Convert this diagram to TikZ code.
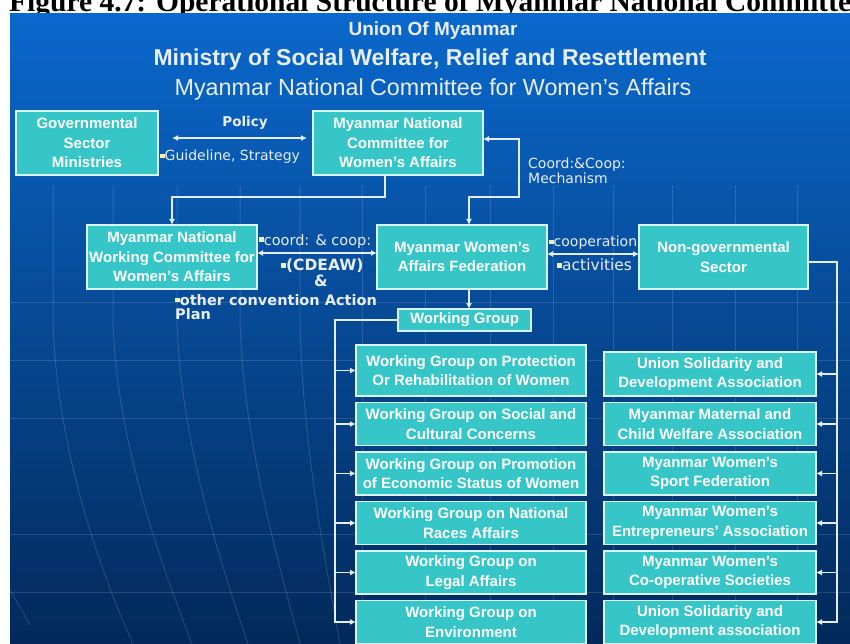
\documentclass[tikz,border=0pt]{standalone}
\usepackage{fontspec}
\setmainfont{Liberation Sans}
\newfontfamily\titlefont{Liberation Serif}
\newfontfamily\notefont{DejaVu Sans}
\usepackage{tikz}
\usetikzlibrary{arrows.meta,positioning,calc}
\usepackage{xcolor}
\definecolor{SlideTop}{HTML}{0A68CC}
\definecolor{SlideMid}{HTML}{064C9C}
\definecolor{SlideBot}{HTML}{03295A}
\definecolor{BoxTeal}{HTML}{36C6C8}
\definecolor{BoxEdge}{HTML}{D8F4F4}
\definecolor{LinkGrey}{HTML}{E4ECF4}
\definecolor{BulletCream}{HTML}{F4F0B0}
\definecolor{HeadWhite}{HTML}{E8EEF6}
\newcommand{\sqbul}{{\color{BulletCream}\rule[0.2em]{0.32em}{0.32em}}}

\begin{document}
\begin{tikzpicture}[x=1pt,y=-1pt,every node/.style={align=center},
    unit/.style={draw=BoxEdge,line width=1.2pt,fill=BoxTeal,inner sep=0pt,outer sep=0pt,text=white,font=\bfseries\fontsize{15}{19.5}\selectfont},
    note/.style={inner sep=0pt,text=HeadWhite,align=left},
    link/.style={draw=LinkGrey,line width=1.2pt,-{Latex[length=6pt,width=6pt]}},
    twoway/.style={link,{Latex[length=6pt,width=6pt]}-{Latex[length=6pt,width=6pt]}},
    gridln/.style={draw=white,opacity=0.13,line width=1pt}]
    \useasboundingbox (0,0) rectangle (850,644);
    \node[anchor=base west,inner sep=0pt,font=\titlefont\bfseries\fontsize{29.5}{30}\selectfont] (fig) at (9,12) {Figure 4.7: Operational Structure of Myanmar National Committee};
    \shade[top color=SlideTop,middle color=SlideMid,bottom color=SlideBot] (10,14) rectangle (850,644);
    % faint grid of the slide background
    \foreach \yy in {302,360,418,534,592} \draw[gridln] (10,\yy) -- (850,\yy);
    \foreach \xx in {362,425,490,553,613,672,735,797} \draw[gridln] (\xx,186) -- (\xx,644);
    \draw[gridln] (53,186) -- (53,320) .. controls (56,440) and (95,560) .. (133,644);
    \draw[gridln] (113,186) -- (113,320) .. controls (116,440) and (160,560) .. (192,644);
    \draw[gridln] (177,186) -- (177,320) .. controls (180,440) and (220,560) .. (248,644);
    \draw[gridln] (240,186) -- (240,320) .. controls (243,440) and (278,560) .. (300,644);
    \draw[gridln] (300,186) -- (300,320) .. controls (302,440) and (325,560) .. (340,644);
    \draw[gridln] (10,590) -- (30,625);

    \node[text=HeadWhite,font=\bfseries\fontsize{19}{22}\selectfont] (union) at (433,31) {Union Of Myanmar};
    \node[text=HeadWhite,font=\bfseries\fontsize{23}{26}\selectfont] (ministry) at (430,60) {Ministry of Social Welfare, Relief and Resettlement};
    \node[text=HeadWhite,font=\fontsize{23.3}{26}\selectfont] (mncwa) at (433,89) {Myanmar National Committee for Women’s Affairs};

    \node[unit,minimum width=142pt,minimum height=64pt] (gov) at (87,143) {Governmental\\Sector\\Ministries};
    \node[unit,minimum width=170pt,minimum height=64pt] (natcom) at (398,143) {Myanmar National\\Committee for\\Women’s Affairs};
    \node[unit,minimum width=170pt,minimum height=64pt] (nwc) at (172,257) {Myanmar National\\Working Committee for\\Women’s Affairs};
    \node[unit,minimum width=170pt,minimum height=64pt] (fed) at (462,257) {Myanmar Women’s\\Affairs Federation};
    \node[unit,minimum width=169pt,minimum height=64pt] (ngo) at (723.5,257) {Non-governmental\\Sector};
    \node[unit,minimum width=133pt,minimum height=22pt] (wg) at (464.5,320) {Working Group};

    \node[unit,minimum width=230pt,minimum height=51pt] (wg1) at (471,370.5) {Working Group on Protection\\Or Rehabilitation of Women};
    \node[unit,minimum width=230pt,minimum height=43pt,below=6.5pt of wg1] (wg2) {Working Group on Social and\\Cultural Concerns};
    \node[unit,minimum width=230pt,minimum height=43pt,below=6.5pt of wg2] (wg3) {Working Group on Promotion\\of Economic Status of Women};
    \node[unit,minimum width=230pt,minimum height=43pt,below=6.5pt of wg3] (wg4) {Working Group on National\\Races Affairs};
    \node[unit,minimum width=230pt,minimum height=43pt,below=6.5pt of wg4] (wg5) {Working Group on\\Legal Affairs};
    \node[unit,minimum width=230pt,minimum height=43pt,below=6.5pt of wg5] (wg6) {Working Group on\\Environment};

    \node[unit,minimum width=212pt,minimum height=44pt] (ms1) at (710,374) {Union Solidarity and\\Development Association};
    \node[unit,minimum width=212pt,minimum height=43pt,below=6.5pt of ms1] (ms2) {Myanmar Maternal and\\Child Welfare Association};
    \node[unit,minimum width=212pt,minimum height=43pt,below=6.5pt of ms2] (ms3) {Myanmar Women’s\\Sport Federation};
    \node[unit,minimum width=212pt,minimum height=43pt,below=6.5pt of ms3] (ms4) {Myanmar Women’s\\Entrepreneurs’ Association};
    \node[unit,minimum width=212pt,minimum height=43pt,below=6.5pt of ms4] (ms5) {Myanmar Women’s\\Co-operative Societies};
    \node[unit,minimum width=212pt,minimum height=43pt,below=6.5pt of ms5] (ms6) {Union Solidarity and\\Development association};

    \coordinate (mechbend) at (519,197);
    \draw[twoway] ([shift={(14,-5)}]gov.east) -- ([shift={(-6,-5)}]natcom.west);
    \draw[twoway] ([yshift=4pt]natcom.east) -| (mechbend) -| ([xshift=7pt]fed.north);
    \draw[link] ([xshift=-13pt]natcom.south) -- ++(0,22) -| (nwc.north);
    \draw[twoway] ([yshift=4pt]nwc.east) -- ([yshift=4pt]fed.west);
    \draw[twoway] ([yshift=3pt]fed.east) -- ([yshift=3pt]ngo.west);
    \draw[link] ([xshift=7pt]fed.south) -- ([xshift=7pt]fed.south |- wg.north);

    \draw[link] (wg.west) -| ([xshift=-21pt]wg1.west) -- (wg1.west);
    \draw[link] (wg.west) -| ([xshift=-21pt]wg2.west) -- (wg2.west);
    \draw[link] (wg.west) -| ([xshift=-21pt]wg3.west) -- (wg3.west);
    \draw[link] (wg.west) -| ([xshift=-21pt]wg4.west) -- (wg4.west);
    \draw[link] (wg.west) -| ([xshift=-21pt]wg5.west) -- (wg5.west);
    \draw[link] (wg.west) -| ([xshift=-21pt]wg6.west) -- (wg6.west);
    \draw[link] ([yshift=-5pt]ngo.east) -| ([xshift=21pt]ms1.east) -- (ms1.east);
    \draw[link] ([yshift=-5pt]ngo.east) -| ([xshift=21pt]ms2.east) -- (ms2.east);
    \draw[link] ([yshift=-5pt]ngo.east) -| ([xshift=21pt]ms3.east) -- (ms3.east);
    \draw[link] ([yshift=-5pt]ngo.east) -| ([xshift=21pt]ms4.east) -- (ms4.east);
    \draw[link] ([yshift=-5pt]ngo.east) -| ([xshift=21pt]ms5.east) -- (ms5.east);
    \draw[link] ([yshift=-5pt]ngo.east) -| ([xshift=21pt]ms6.east) -- (ms6.east);

    \node[note,font=\notefont\bfseries\fontsize{13.5}{16}\selectfont] (policy) at (245,123) {Policy};
    \node[note,anchor=west,font=\notefont\fontsize{14}{16}\selectfont] (guide) at (160,157) {\sqbul Guideline, Strategy};
    \node[note,anchor=west,font=\notefont\fontsize{14}{12.5}\selectfont] (mech) at (528,171) {Coord:\&Coop:\\Mechanism};
    \node[note,anchor=west,font=\notefont\fontsize{14.5}{16}\selectfont] (coord) at (259,241) {\sqbul coord: \& coop:};
    \node[note,anchor=west,font=\notefont\bfseries\fontsize{15.5}{16}\selectfont] (cdeaw) at (281,266) {\sqbul (CDEAW)};
    \node[note,font=\notefont\bfseries\fontsize{15.5}{16}\selectfont] (amp) at (321,281) {\&};
    \node[note,anchor=north west,font=\notefont\bfseries\fontsize{14.5}{14}\selectfont] (otherconv) at (175,294) {\sqbul other convention Action\\Plan};
    \node[note,anchor=west,font=\notefont\fontsize{14}{16}\selectfont] (coop) at (549,243) {\sqbul cooperation};
    \node[note,anchor=west,font=\notefont\fontsize{15.5}{16}\selectfont] (activ) at (557,265) {\sqbul activities};
\end{tikzpicture}
\end{document}
